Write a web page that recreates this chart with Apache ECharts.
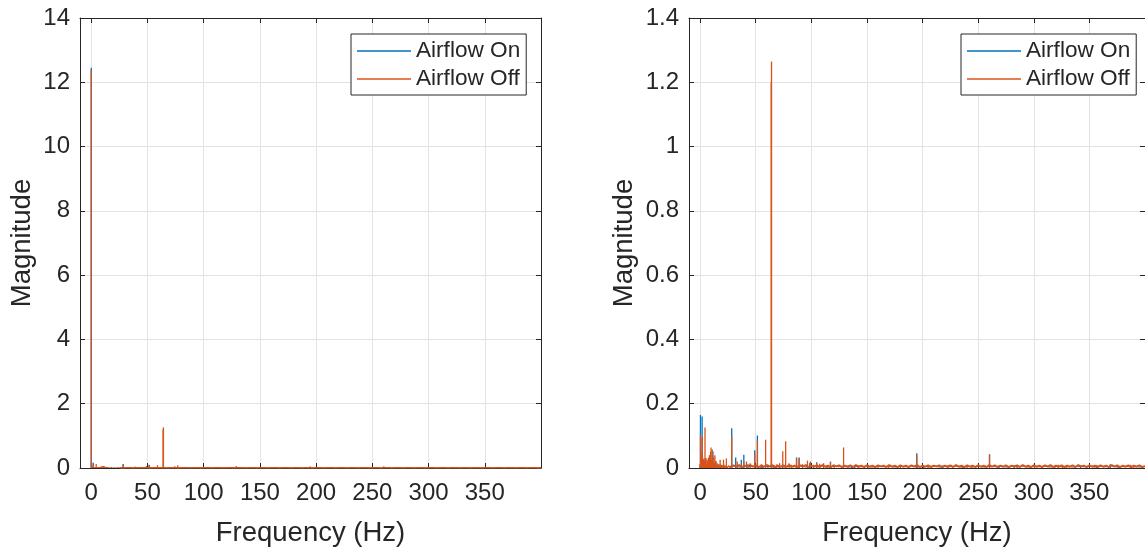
<!DOCTYPE html>
<html>
<head>
<meta charset="utf-8">
<script src="https://cdn.jsdelivr.net/npm/echarts@6/dist/echarts.min.js"></script>
<style>
html,body{margin:0;padding:0;background:#fff;}
#chart{width:1145px;height:552px;}
</style>
</head>
<body>
<div id="chart"></div>
<script>
// ---------------- DATA ----------------
const SERIES_NAMES = ['Airflow On', 'Airflow Off'];
const FREQ_TICKS = [0, 50, 100, 150, 200, 250, 300, 350];

// DC (0 Hz) magnitude, only present in the left (raw) spectrum
const DC_ON = 12.45;
const DC_OFF = 12.38;

// Airflow Off (orange) – low-frequency content 0–25 Hz
const offLowF = [0, 0.3, 0.6, 1.0, 1.4, 1.8, 2.2, 2.6, 3.0, 3.4, 3.8, 4.4, 4.9, 5.4, 5.9, 6.4, 6.9, 7.4, 7.9, 8.4, 8.9, 9.4, 9.8, 10.3, 10.8, 11.3, 11.8, 12.3, 12.8, 13.3, 13.8, 14.3, 14.8, 15.4, 16.0, 16.6, 17.2, 18.0, 18.6, 19.2, 19.8, 20.4, 21.0, 21.6, 22.2, 22.9, 23.6, 24.3];
const offLowM = [0.012, 0.103, 0.030, 0.045, 0.020, 0.097, 0.035, 0.018, 0.028, 0.015, 0.022, 0.126, 0.020, 0.030, 0.012, 0.025, 0.018, 0.032, 0.015, 0.040, 0.022, 0.050, 0.064, 0.025, 0.058, 0.030, 0.020, 0.035, 0.015, 0.040, 0.010, 0.022, 0.008, 0.015, 0.006, 0.012, 0.005, 0.026, 0.006, 0.010, 0.005, 0.008, 0.026, 0.006, 0.010, 0.005, 0.030, 0.006];
// Airflow Off – noise floor 25–400 Hz
const offBaseF = [25, 27.5, 30, 32.5, 35, 37.5, 40, 42.5, 45, 47.5,
  50, 52.5, 55, 57.5, 60, 62.5, 65, 67.5, 70, 72.5,
  75, 77.5, 80, 82.5, 85, 87.5, 90, 92.5, 95, 97.5,
  100, 102.5, 105, 107.5, 110, 112.5, 115, 117.5, 120, 122.5,
  125, 127.5, 130, 132.5, 135, 137.5, 140, 142.5, 145, 147.5,
  150, 152.5, 155, 157.5, 160, 162.5, 165, 167.5, 170, 172.5,
  175, 177.5, 180, 182.5, 185, 187.5, 190, 192.5, 195, 197.5,
  200, 202.5, 205, 207.5, 210, 212.5, 215, 217.5, 220, 222.5,
  225, 227.5, 230, 232.5, 235, 237.5, 240, 242.5, 245, 247.5,
  250, 252.5, 255, 257.5, 260, 262.5, 265, 267.5, 270, 272.5,
  275, 277.5, 280, 282.5, 285, 287.5, 290, 292.5, 295, 297.5,
  300, 302.5, 305, 307.5, 310, 312.5, 315, 317.5, 320, 322.5,
  325, 327.5, 330, 332.5, 335, 337.5, 340, 342.5, 345, 347.5,
  350, 352.5, 355, 357.5, 360, 362.5, 365, 367.5, 370, 372.5,
  375, 377.5, 380, 382.5, 385, 387.5, 390, 392.5, 395, 397.5, 400];
const offBaseM = [0.006, 0.003, 0.008, 0.004, 0.009, 0.003, 0.007, 0.005, 0.009, 0.004,
  0.008, 0.003, 0.007, 0.004, 0.009, 0.005, 0.008, 0.003, 0.007, 0.004,
  0.008, 0.003, 0.009, 0.004, 0.007, 0.003, 0.008, 0.005, 0.009, 0.003,
  0.007, 0.004, 0.008, 0.003, 0.009, 0.004, 0.007, 0.003, 0.008, 0.005,
  0.008, 0.003, 0.007, 0.004, 0.008, 0.003, 0.009, 0.004, 0.007, 0.003,
  0.008, 0.004, 0.007, 0.003, 0.008, 0.005, 0.007, 0.003, 0.009, 0.004,
  0.007, 0.003, 0.008, 0.004, 0.007, 0.003, 0.008, 0.004, 0.009, 0.003,
  0.007, 0.004, 0.008, 0.003, 0.007, 0.005, 0.008, 0.003, 0.007, 0.004,
  0.008, 0.003, 0.009, 0.004, 0.007, 0.003, 0.008, 0.004, 0.007, 0.003,
  0.008, 0.004, 0.007, 0.003, 0.009, 0.004, 0.008, 0.003, 0.007, 0.004,
  0.008, 0.003, 0.007, 0.005, 0.008, 0.003, 0.009, 0.004, 0.007, 0.003,
  0.008, 0.004, 0.007, 0.003, 0.008, 0.004, 0.009, 0.003, 0.007, 0.004,
  0.008, 0.003, 0.007, 0.004, 0.008, 0.003, 0.009, 0.005, 0.007, 0.003,
  0.008, 0.004, 0.007, 0.003, 0.008, 0.004, 0.007, 0.003, 0.009, 0.004,
  0.008, 0.003, 0.007, 0.004, 0.008, 0.003, 0.007, 0.004, 0.008, 0.003, 0.006];
// Airflow Off – peaks above 25 Hz
const offPeakF = [28.4, 33.4, 39.3, 41.7, 45.0, 49.1, 51.5, 55.0, 58.9, 63.9, 64.2, 66.0, 69.0, 71.5, 74.3, 76.9, 80.0, 82.0, 86.7, 89.0, 92.0, 96.5, 99.1, 102.0, 104.8, 107.5, 111.0, 114.0, 117.2, 120.5, 129.0, 133.0, 142.0, 151.0, 160.0, 169.6, 180.0, 194.8, 205.0, 223.0, 240.0, 244.5, 260.2, 285.0, 300.7, 319.0, 322.0, 325.8, 329.6, 356.6, 376.0, 387.0, 390.0];
const offPeakM = [0.100, 0.020, 0.020, 0.020, 0.015, 0.045, 0.085, 0.012, 0.088, 1.200, 1.265, 0.010, 0.012, 0.015, 0.052, 0.083, 0.015, 0.010, 0.030, 0.030, 0.012, 0.023, 0.020, 0.010, 0.015, 0.013, 0.015, 0.008, 0.018, 0.010, 0.064, 0.008, 0.009, 0.010, 0.008, 0.009, 0.008, 0.040, 0.008, 0.009, 0.009, 0.009, 0.041, 0.008, 0.009, 0.009, 0.010, 0.009, 0.009, 0.009, 0.008, 0.010, 0.009];

// Airflow On (blue) – low-frequency content 0–25 Hz
const onLowF = [0, 0.3, 0.6, 1.0, 1.4, 1.8, 2.2, 2.6, 3.0, 3.5, 4.0, 4.5, 5.0, 6.0, 7.0, 8.0, 9.0, 10.0, 10.5, 11.0, 11.5, 12.0, 13.0, 14.0, 15.0, 16.0, 17.0, 18.0, 19.0, 20.0, 22.0, 24.0];
const onLowM = [0.010, 0.165, 0.020, 0.030, 0.015, 0.160, 0.025, 0.012, 0.020, 0.010, 0.015, 0.030, 0.010, 0.012, 0.008, 0.015, 0.010, 0.020, 0.012, 0.030, 0.052, 0.015, 0.010, 0.020, 0.008, 0.010, 0.006, 0.012, 0.005, 0.008, 0.006, 0.004];
// Airflow On – noise floor 25–400 Hz
const onBaseF = [25, 30, 35, 40, 45, 50, 55, 60, 65, 70,
  75, 80, 85, 90, 95, 100, 105, 110, 115, 120,
  125, 130, 135, 140, 145, 150, 155, 160, 165, 170,
  175, 180, 185, 190, 195, 200, 205, 210, 215, 220,
  225, 230, 235, 240, 245, 250, 255, 260, 265, 270,
  275, 280, 285, 290, 295, 300, 305, 310, 315, 320,
  325, 330, 335, 340, 345, 350, 355, 360, 365, 370,
  375, 380, 385, 390, 395, 400];
const onBaseM = [0.004, 0.006, 0.003, 0.005, 0.004, 0.006, 0.003, 0.005, 0.004, 0.006,
  0.003, 0.005, 0.004, 0.006, 0.003, 0.005, 0.004, 0.006, 0.003, 0.005,
  0.004, 0.006, 0.003, 0.005, 0.004, 0.006, 0.003, 0.005, 0.004, 0.006,
  0.003, 0.005, 0.004, 0.006, 0.003, 0.005, 0.004, 0.006, 0.003, 0.005,
  0.004, 0.006, 0.003, 0.005, 0.004, 0.006, 0.003, 0.005, 0.004, 0.006,
  0.003, 0.005, 0.004, 0.006, 0.003, 0.005, 0.004, 0.006, 0.003, 0.005,
  0.004, 0.006, 0.003, 0.005, 0.004, 0.006, 0.003, 0.005, 0.004, 0.006,
  0.003, 0.005, 0.004, 0.006, 0.003, 0.005];
// Airflow On – peaks above 25 Hz
const onPeakF = [28.4, 32.0, 37.0, 39.3, 43.0, 49.1, 51.5, 56.0, 61.0, 64.2, 66.5, 71.0, 86.7, 89.0, 98.5, 104.8, 117.2, 136.4, 139.0, 194.8, 201.0, 218.0, 236.0, 260.2, 268.7, 282.4, 300.7, 342.0, 356.6, 368.8];
const onPeakM = [0.124, 0.033, 0.026, 0.041, 0.012, 0.055, 0.101, 0.010, 0.010, 0.012, 0.008, 0.008, 0.033, 0.033, 0.015, 0.018, 0.020, 0.008, 0.008, 0.046, 0.008, 0.008, 0.008, 0.043, 0.007, 0.008, 0.009, 0.008, 0.009, 0.012];

// ---------------- BUILD ----------------
function toPairs(fs, ms) { return fs.map((f, i) => [f, ms[i]]); }
const onFloor = toPairs(onBaseF, onBaseM);
const offFloor = toPairs(offBaseF, offBaseM);
const onSticksRight = toPairs(onLowF, onLowM).concat(toPairs(onPeakF, onPeakM));
const offSticksRight = toPairs(offLowF, offLowM).concat(toPairs(offPeakF, offPeakM));
const onSticksLeft = [[0, DC_ON]].concat(onSticksRight.filter(p => p[0] > 0));
const offSticksLeft = [[0, DC_OFF]].concat(offSticksRight.filter(p => p[0] > 0));

const FONT = '"Liberation Sans", Arial, Helvetica, sans-serif';
const TXT = '#262626';
const BLUE = '#0072BD';
const ORANGE = '#D95319';
const GRIDC = '#e3e3e3';

function xAxes(grid) {
  return [{
    gridIndex: grid, type: 'value', min: -10, max: 400, position: 'bottom',
    axisLine: { show: true, onZero: false, lineStyle: { color: TXT, width: 1 } },
    axisTick: { show: true, inside: true, length: 5, customValues: FREQ_TICKS, lineStyle: { color: TXT } },
    axisLabel: { show: true, customValues: FREQ_TICKS, fontSize: 24, color: TXT, fontFamily: FONT, margin: 13 },
    splitLine: { show: true, lineStyle: { color: GRIDC, width: 1 } },
    name: 'Frequency (Hz)', nameLocation: 'middle', nameGap: 51,
    nameTextStyle: { fontSize: 27.5, color: TXT, fontFamily: FONT }
  }, {
    gridIndex: grid, type: 'value', min: -10, max: 400, position: 'top',
    axisLine: { show: true, onZero: false, lineStyle: { color: TXT, width: 1 } },
    axisTick: { show: true, inside: true, length: 5, customValues: FREQ_TICKS, lineStyle: { color: TXT } },
    axisLabel: { show: false }, splitLine: { show: false }
  }];
}
function yAxes(grid, max, interval, gap) {
  return [{
    gridIndex: grid, type: 'value', min: 0, max: max, interval: interval, position: 'left',
    axisLine: { show: true, onZero: false, lineStyle: { color: TXT, width: 1 } },
    axisTick: { show: true, inside: true, length: 5, lineStyle: { color: TXT } },
    axisLabel: { show: true, fontSize: 24, color: TXT, fontFamily: FONT, margin: 10 },
    splitLine: { show: true, lineStyle: { color: GRIDC, width: 1 } },
    name: 'Magnitude', nameLocation: 'middle', nameGap: gap, nameRotate: 90,
    nameTextStyle: { fontSize: 27.5, color: TXT, fontFamily: FONT }
  }, {
    gridIndex: grid, type: 'value', min: 0, max: max, interval: interval, position: 'right',
    axisLine: { show: true, onZero: false, lineStyle: { color: TXT, width: 1 } },
    axisTick: { show: true, inside: true, length: 5, lineStyle: { color: TXT } },
    axisLabel: { show: false }, splitLine: { show: false }
  }];
}
function legend(left) {
  return {
    data: SERIES_NAMES, left: left, top: 34, orient: 'vertical', icon: 'rect',
    backgroundColor: '#fff', borderColor: TXT, borderWidth: 1, borderRadius: 0,
    padding: [5, 6, 4, 6], itemGap: 4, itemWidth: 54, itemHeight: 1.6,
    textStyle: { fontSize: 22.6, color: TXT, fontFamily: FONT, lineHeight: 24 },
    selectedMode: false
  };
}
function floorLine(name, data, color, width, xi, yi) {
  return {
    name: name, type: 'line', data: data, xAxisIndex: xi, yAxisIndex: yi,
    showSymbol: false, symbol: 'none', sampling: null, clip: true,
    lineStyle: { color: color, width: width }, itemStyle: { color: color },
    emphasis: { disabled: true }
  };
}
function sticks(name, data, color, xi, yi) {
  return {
    name: name, type: 'bar', data: data, xAxisIndex: xi, yAxisIndex: yi,
    barWidth: 1.3, barGap: '-100%', clip: true,
    itemStyle: { color: color, opacity: 1 },
    emphasis: { disabled: true }
  };
}

const chart = echarts.init(document.getElementById('chart'), null, { renderer: 'canvas' });
chart.setOption({
  animation: false,
  backgroundColor: '#fff',
  textStyle: { fontFamily: FONT },
  grid: [
    { left: 80, top: 18, width: 461, height: 452 },
    { left: 689, top: 18, width: 461, height: 452 }
  ],
  xAxis: xAxes(0).concat(xAxes(1)),
  yAxis: yAxes(0, 14, 2, 44).concat(yAxes(1, 1.4, 0.2, 51)),
  legend: [legend(351), legend(961)],
  series: [
    floorLine(SERIES_NAMES[0], onFloor, BLUE, 1, 0, 0),
    sticks(SERIES_NAMES[0], onSticksLeft, BLUE, 0, 0),
    floorLine(SERIES_NAMES[1], offFloor, ORANGE, 1.5, 0, 0),
    sticks(SERIES_NAMES[1], offSticksLeft, ORANGE, 0, 0),
    floorLine(SERIES_NAMES[0], onFloor, BLUE, 1, 2, 2),
    sticks(SERIES_NAMES[0], onSticksRight, BLUE, 2, 2),
    floorLine(SERIES_NAMES[1], offFloor, ORANGE, 2, 2, 2),
    sticks(SERIES_NAMES[1], offSticksRight, ORANGE, 2, 2)
  ]
});
</script>
</body>
</html>
